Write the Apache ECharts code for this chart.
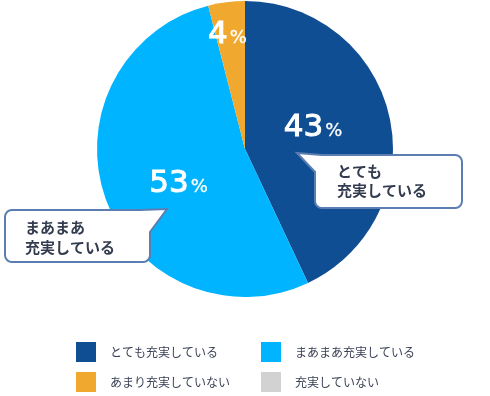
<!DOCTYPE html>
<html><head><meta charset="utf-8">
<script src="https://cdn.jsdelivr.net/npm/echarts@6/dist/echarts.min.js"></script>
<style>html,body{margin:0;padding:0;background:#fff}#c{width:490px;height:396px}</style>
</head><body><div id="c"></div>
<script>
const categories = ['とても充実している', 'まあまあ充実している', 'あまり充実していない', '充実していない'];
const values = [43, 53, 4, 0];
const colors = ['#0f4e92', '#00b4ff', '#f0a82e', '#d2d2d2'];
const calloutTexts = ['とても\n充実している', 'まあまあ\n充実している'];

const FONT = '"Noto Sans CJK JP", "Noto Sans", sans-serif';
const NUMFONT = '"DejaVu Sans", sans-serif';

function arcPts(cx, cy, rad, a0, a1) {
  const pts = [];
  for (let i = 0; i <= 6; i++) {
    const a = (a0 + (a1 - a0) * i / 6) * Math.PI / 180;
    pts.push([cx + rad * Math.cos(a), cy + rad * Math.sin(a)]);
  }
  return pts;
}
const R = 7;
const c1 = { l: 315, t: 155, r: 462, b: 208 };
const poly1 = [[297, 153], [322, c1.t]]
  .concat(arcPts(c1.r - R, c1.t + R, R, -90, 0))
  .concat(arcPts(c1.r - R, c1.b - R, R, 0, 90))
  .concat(arcPts(c1.l + R, c1.b - R, R, 90, 180))
  .concat([[c1.l, 172]]);
const c2 = { l: 5, t: 210, r: 150, b: 262 };
const poly2 = [[167, 209], [c2.r, 232]]
  .concat(arcPts(c2.r - R, c2.b - R, R, 0, 90))
  .concat(arcPts(c2.l + R, c2.b - R, R, 90, 180))
  .concat(arcPts(c2.l + R, c2.t + R, R, 180, 270))
  .concat([[140, c2.t]]);

const legendPos = [[76, 342], [261, 342], [76, 372], [261, 372]];
const chart = echarts.init(document.getElementById('c'), null, { renderer: 'canvas' });
const labelShift = [[-7, -4], [6, 9], [-8, -38], [0, 0]];
chart.setOption({
  animation: false,
  color: colors,
  legend: categories.map((c, i) => ({
    data: [c], orient: 'horizontal', left: legendPos[i][0], top: legendPos[i][1], padding: 0,
    itemWidth: 20, itemHeight: 20, icon: 'rect', selectedMode: false,
    textStyle: { color: '#3b4256', fontSize: 12, fontFamily: FONT, padding: [0, 0, 0, 9] }
  })),
  series: [{
    type: 'pie',
    center: [245, 149],
    radius: [0, 148],
    startAngle: 90,
    clockwise: true,
    avoidLabelOverlap: false,
    labelLine: { show: false },
    label: {
      show: true, position: 'inside',
      formatter: p => p.value > 0 ? '{n|' + p.value + '}{p|%}' : '',
      rich: {
        n: { color: '#fff', fontSize: 31, fontWeight: 'normal', fontFamily: NUMFONT, textBorderColor: '#fff', textBorderWidth: 1 },
        p: { color: '#fff', fontSize: 18, fontWeight: 'normal', fontFamily: NUMFONT, padding: [7, 0, 0, 2], textBorderColor: '#fff', textBorderWidth: 0.3 }
      }
    },
    labelLayout: p => ({ dx: labelShift[p.dataIndex][0], dy: labelShift[p.dataIndex][1] }),
    emphasis: { disabled: true },
    data: categories.map((c, i) => ({ name: c, value: values[i], itemStyle: { color: colors[i] } }))
  }],
  graphic: [
    { type: 'polygon', shape: { points: poly1 }, style: { fill: '#fff', stroke: '#5b7db1', lineWidth: 2 }, z: 100 },
    { type: 'text', left: 337, top: 162, style: { text: calloutTexts[0], fill: '#333c4e', font: 'bold 15px ' + FONT, lineHeight: 19 }, z: 101 },
    { type: 'polygon', shape: { points: poly2 }, style: { fill: '#fff', stroke: '#5b7db1', lineWidth: 2 }, z: 100 },
    { type: 'text', left: 25, top: 217, style: { text: calloutTexts[1], fill: '#333c4e', font: 'bold 15px ' + FONT, lineHeight: 20 }, z: 101 }
  ]
});
</script></body></html>
